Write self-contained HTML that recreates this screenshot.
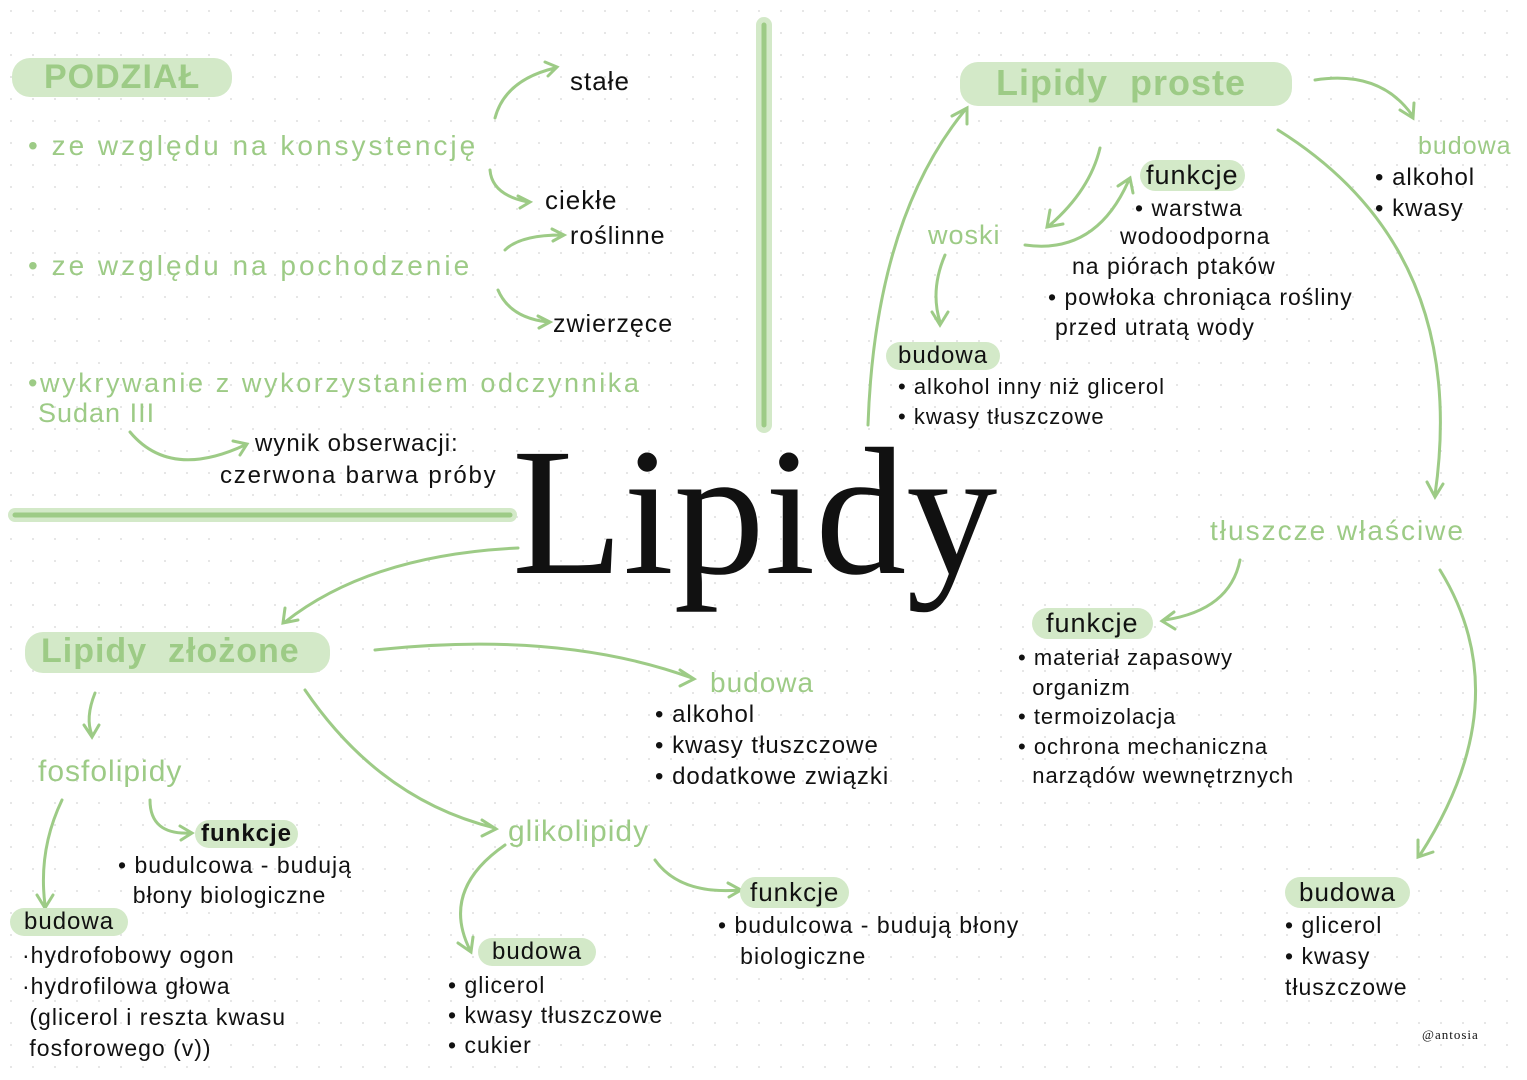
<!DOCTYPE html>
<html><head><meta charset="utf-8"><style>
body{margin:0;width:1527px;height:1080px;overflow:hidden;background:#fff;
background-image:radial-gradient(#e4e4e4 1px,transparent 1.2px);background-size:22px 22px;
font-family:"Liberation Sans",sans-serif;position:relative}
.t{position:absolute;white-space:nowrap;color:#111;font-size:23px;letter-spacing:1px}
.g{color:#9dcb86}
.hl{background:#d3e9c8;border-radius:18px}
.big{font-family:"Liberation Serif",serif;font-size:182px;color:#111;position:absolute;left:512px;top:422px;line-height:1}
</style></head><body>
<svg width="1527" height="1080" style="position:absolute;left:0;top:0" fill="none" stroke="#9dcb86" stroke-width="3" stroke-linecap="round">
<line x1="764" y1="25" x2="764" y2="425" stroke="#d3e9c8" stroke-width="16"/>
<line x1="764" y1="25" x2="764" y2="425" stroke-width="5"/>
<line x1="15" y1="515" x2="510" y2="515" stroke="#d3e9c8" stroke-width="14"/>
<line x1="15" y1="515" x2="510" y2="515" stroke-width="5"/>
<path d="M495 118 Q505 80 555 68 M545 62 L557 67 L548 76"/>
<path d="M490 170 Q492 195 528 202 M518 196 L530 202 L520 208"/>
<path d="M505 250 Q520 235 562 235 M552 229 L564 235 L553 241"/>
<path d="M498 290 Q510 318 548 322 M538 316 L550 322 L539 328"/>
<path d="M130 432 Q170 480 245 445 M233 441 L247 444 L240 455"/>
<path d="M518 548 Q370 555 285 622 M285 608 L283 623 L298 620"/>
<path d="M868 425 Q875 220 965 110 M952 116 L967 108 L967 124"/>
<path d="M1100 148 Q1090 190 1050 225 M1050 210 L1047 227 L1063 224"/>
<path d="M1025 245 Q1095 255 1128 182 M1118 186 L1130 178 L1133 193"/>
<path d="M945 255 Q930 290 940 322 M932 312 L940 325 L948 312"/>
<path d="M1315 80 Q1380 70 1412 115 M1400 110 L1413 118 L1414 103"/>
<path d="M1278 130 Q1470 250 1435 495 M1427 482 L1435 497 L1443 484"/>
<path d="M1240 560 Q1230 610 1165 620 M1174 612 L1162 621 L1175 629"/>
<path d="M1440 570 Q1520 700 1420 855 M1418 840 L1418 857 L1433 852"/>
<path d="M375 650 Q560 630 692 678 M680 670 L694 679 L680 686"/>
<path d="M305 690 Q380 800 495 828 M482 820 L496 829 L482 836"/>
<path d="M95 693 Q85 718 92 735 M84 725 L92 737 L99 725"/>
<path d="M62 800 Q38 850 45 905 M37 895 L45 908 L53 895"/>
<path d="M150 800 Q150 835 190 833 M180 826 L192 833 L181 840"/>
<path d="M505 845 Q440 890 470 950 M458 943 L471 952 L473 937"/>
<path d="M655 860 Q680 895 740 890 M728 883 L741 890 L729 897"/>
</svg>
<div class="t g hl" style="left:12px;top:58px;font-size:34px;font-weight:bold;padding:0 32px">PODZIAŁ</div>
<div class="t" style="left:570px;top:66px;font-size:26px">stałe</div>
<div class="t g" style="left:28px;top:130px;font-size:28px;letter-spacing:3px">• ze względu na konsystencję</div>
<div class="t" style="left:545px;top:185px;font-size:26px">ciekłe</div>
<div class="t" style="left:570px;top:222px;font-size:25px">roślinne</div>
<div class="t g" style="left:28px;top:250px;font-size:28px;letter-spacing:3px">• ze względu na pochodzenie</div>
<div class="t" style="left:553px;top:310px;font-size:25px">zwierzęce</div>
<div class="t g" style="left:28px;top:368px;font-size:27px;letter-spacing:2.6px">•wykrywanie z wykorzystaniem odczynnika</div>
<div class="t g" style="left:38px;top:398px;font-size:27px">Sudan III</div>
<div class="t" style="left:255px;top:430px;font-size:24px">wynik obserwacji:</div>
<div class="t" style="left:220px;top:462px;font-size:24px;letter-spacing:1.8px">czerwona barwa próby</div>
<div class="big">Lipidy</div>
<div class="t g hl" style="left:960px;top:62px;font-size:36px;font-weight:bold;padding:0 46px 2px 36px">Lipidy&nbsp; proste</div>
<div class="t g" style="left:1418px;top:132px;font-size:25px">budowa</div>
<div class="t" style="left:1375px;top:162px;font-size:24px;line-height:31px">• alkohol<br>• kwasy</div>
<div class="t hl" style="left:1140px;top:160px;font-size:27px;padding:0 6px">funkcje</div>
<div class="t" style="left:1135px;top:193px;font-size:23px;line-height:30px">• warstwa</div>
<div class="t" style="left:1120px;top:223px;font-size:23px">wodoodporna</div>
<div class="t" style="left:1072px;top:253px;font-size:23px">na piórach ptaków</div>
<div class="t" style="left:1048px;top:284px;font-size:23px">• powłoka chroniąca rośliny</div>
<div class="t" style="left:1055px;top:314px;font-size:23px">przed utratą wody</div>
<div class="t g" style="left:928px;top:220px;font-size:27px">woski</div>
<div class="t hl" style="left:886px;top:342px;font-size:24px;padding:0 12px">budowa</div>
<div class="t" style="left:898px;top:372px;font-size:22px;line-height:30px">• alkohol inny niż glicerol<br>• kwasy tłuszczowe</div>
<div class="t g" style="left:1210px;top:515px;font-size:28px;letter-spacing:2px">tłuszcze właściwe</div>
<div class="t hl" style="left:1032px;top:608px;font-size:27px;padding:0 14px">funkcje</div>
<div class="t" style="left:1018px;top:643px;font-size:22px;line-height:29.5px">• materiał zapasowy<br>&nbsp; organizm<br>• termoizolacja<br>• ochrona mechaniczna<br>&nbsp; narządów wewnętrznych</div>
<div class="t hl" style="left:1285px;top:877px;font-size:26px;padding:0 14px">budowa</div>
<div class="t" style="left:1285px;top:910px;font-size:23px;line-height:31px">• glicerol<br>• kwasy<br>tłuszczowe</div>
<div class="t" style="left:1422px;top:1027px;font-size:13px;font-family:'Liberation Serif',serif">@antosia</div>
<div class="t g hl" style="left:25px;top:632px;font-size:34px;font-weight:bold;padding:0 30px 2px 16px">Lipidy&nbsp; złożone</div>
<div class="t g" style="left:710px;top:667px;font-size:28px">budowa</div>
<div class="t" style="left:655px;top:699px;font-size:24px;line-height:31px">• alkohol<br>• kwasy tłuszczowe<br>• dodatkowe związki</div>
<div class="t g" style="left:38px;top:755px;font-size:30px">fosfolipidy</div>
<div class="t hl" style="left:195px;top:820px;font-size:24px;font-weight:bold;padding:0 6px">funkcje</div>
<div class="t" style="left:118px;top:850px;font-size:23px;line-height:30px">• budulcowa - budują<br>&nbsp; błony biologiczne</div>
<div class="t hl" style="left:10px;top:908px;font-size:24px;padding:0 14px">budowa</div>
<div class="t" style="left:22px;top:940px;font-size:23px;line-height:31px">·hydrofobowy ogon<br>·hydrofilowa głowa<br>&nbsp;(glicerol i reszta kwasu<br>&nbsp;fosforowego (v))</div>
<div class="t g" style="left:508px;top:815px;font-size:30px">glikolipidy</div>
<div class="t hl" style="left:478px;top:938px;font-size:24px;padding:0 14px">budowa</div>
<div class="t" style="left:448px;top:970px;font-size:23px;line-height:30px">• glicerol<br>• kwasy tłuszczowe<br>• cukier</div>
<div class="t hl" style="left:740px;top:877px;font-size:26px;padding:0 10px">funkcje</div>
<div class="t" style="left:718px;top:910px;font-size:23px;line-height:31px">• budulcowa - budują błony<br>&nbsp;&nbsp; biologiczne</div>
</body></html>
